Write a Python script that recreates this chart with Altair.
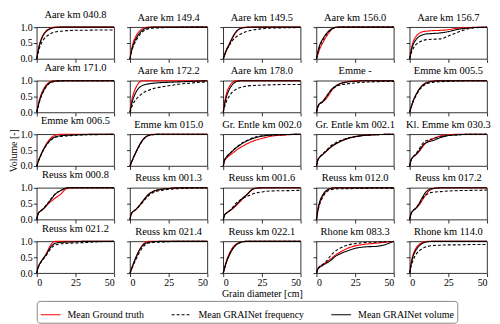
import altair as alt
import pandas as pd

DIAM = [0, 1, 2, 4, 6, 8, 10, 12, 15, 20, 25, 30, 40, 50]

TITLES = ["Aare km 040.8", "Aare km 149.4", "Aare km 149.5", "Aare km 156.0", "Aare km 156.7",
          "Aare km 171.0", "Aare km 172.2", "Aare km 178.0", "Emme -", "Emme km 005.5",
          "Emme km 006.5", "Emme km 015.0", "Gr. Entle km 002.0", "Gr. Entle km 002.1", "Kl. Emme km 030.3",
          "Reuss km 000.8", "Reuss km 001.3", "Reuss km 001.6", "Reuss km 012.0", "Reuss km 017.2",
          "Reuss km 021.2", "Reuss km 021.4", "Reuss km 022.1", "Rhone km 083.3", "Rhone km 114.0"]

SERIES = ["Mean Ground truth", "Mean GRAINet frequency", "Mean GRAINet volume"]

GT = [
    [0, .30, .50, .75, .88, .95, .99, 1, 1, 1, 1, 1, 1, 1],
    [0, .30, .50, .73, .87, .95, .99, 1, 1, 1, 1, 1, 1, 1],
    [0, .12, .25, .45, .65, .82, .93, .98, 1, 1, 1, 1, 1, 1],
    [0, .15, .30, .50, .67, .82, .93, .99, 1, 1, 1, 1, 1, 1],
    [0, .30, .50, .70, .80, .85, .87, .88, .89, .90, .92, .96, .99, 1],
    [0, .25, .45, .70, .86, .95, .99, 1, 1, 1, 1, 1, 1, 1],
    [0, .35, .55, .80, .95, 1, 1, 1, 1, 1, 1, 1, 1, 1],
    [0, .35, .58, .82, .95, 1, 1, 1, 1, 1, 1, 1, 1, 1],
    [0, .20, .28, .33, .42, .55, .70, .80, .90, .97, 1, 1, 1, 1],
    [0, .18, .33, .55, .72, .84, .92, .96, .99, 1, 1, 1, 1, 1],
    [0, .15, .28, .50, .68, .82, .92, .97, 1, 1, 1, 1, 1, 1],
    [0, .12, .24, .45, .64, .80, .91, .97, 1, 1, 1, 1, 1, 1],
    [0, .18, .24, .33, .40, .48, .55, .61, .69, .80, .87, .93, .98, 1],
    [0, .20, .27, .36, .45, .54, .62, .69, .77, .87, .93, .96, .99, 1],
    [0, .20, .27, .35, .45, .58, .70, .78, .86, .95, .98, 1, 1, 1],
    [0, .20, .25, .32, .42, .52, .60, .68, .78, .99, 1, 1, 1, 1],
    [0, .20, .25, .33, .43, .55, .67, .78, .88, .95, .98, 1, 1, 1],
    [0, .15, .20, .27, .34, .42, .52, .62, .76, .97, 1, 1, 1, 1],
    [0, .30, .50, .73, .88, .96, .99, 1, 1, 1, 1, 1, 1, 1],
    [0, .20, .27, .35, .45, .60, .75, .88, .97, 1, 1, 1, 1, 1],
    [0, .20, .30, .45, .60, .80, .95, 1, 1, 1, 1, 1, 1, 1],
    [0, .12, .25, .50, .72, .88, .97, 1, 1, 1, 1, 1, 1, 1],
    [0, .20, .38, .62, .80, .90, .96, .99, 1, 1, 1, 1, 1, 1],
    [0, .15, .20, .27, .33, .40, .48, .56, .65, .78, .86, .90, .95, 1],
    [0, .35, .55, .78, .90, .96, .99, 1, 1, 1, 1, 1, 1, 1],
]

FREQ = [
    [0, .22, .38, .58, .70, .77, .82, .85, .87, .89, .90, .90, .91, .91],
    [0, .22, .38, .58, .74, .85, .92, .95, .97, .98, .99, .99, 1, 1],
    [0, .14, .26, .43, .58, .68, .75, .80, .86, .92, .95, .97, .98, .99],
    [0, .22, .38, .58, .74, .86, .94, .98, 1, 1, 1, 1, 1, 1],
    [0, .18, .30, .45, .52, .57, .60, .61, .62, .63, .72, .82, .97, 1],
    [0, .20, .38, .63, .80, .91, .96, .98, .99, 1, 1, 1, 1, 1],
    [0, .15, .27, .42, .52, .60, .66, .70, .75, .80, .84, .88, .93, .97],
    [0, .20, .34, .52, .65, .72, .77, .80, .83, .85, .86, .87, .88, .88],
    [0, .18, .25, .33, .45, .60, .72, .80, .86, .90, .93, .95, .97, .98],
    [0, .17, .31, .52, .69, .80, .88, .92, .95, .97, .98, .99, 1, 1],
    [0, .14, .26, .47, .64, .76, .85, .90, .93, .95, .97, .98, .99, 1],
    [0, .12, .23, .44, .63, .79, .90, .96, .99, 1, 1, 1, 1, 1],
    [0, .20, .28, .38, .48, .57, .65, .72, .80, .90, .95, .97, .99, 1],
    [0, .20, .28, .38, .48, .57, .66, .72, .79, .88, .93, .96, .99, 1],
    [0, .20, .28, .38, .52, .68, .78, .82, .86, .92, .96, .98, 1, 1],
    [0, .20, .25, .33, .45, .57, .70, .82, .90, 1, 1, 1, 1, 1],
    [0, .19, .24, .32, .42, .53, .65, .75, .85, .92, .95, .97, .99, 1],
    [0, .15, .20, .28, .38, .50, .58, .65, .72, .82, .87, .90, .91, .92],
    [0, .28, .47, .70, .84, .92, .95, .96, .97, .97, .98, .98, .99, .99],
    [0, .20, .27, .36, .48, .64, .76, .82, .86, .88, .90, .91, .92, .93],
    [0, .18, .28, .42, .55, .70, .82, .88, .92, .94, .95, .96, .99, 1],
    [0, .12, .24, .45, .64, .80, .90, .95, .97, .98, .99, 1, 1, 1],
    [0, .18, .34, .58, .76, .88, .95, .98, 1, 1, 1, 1, 1, 1],
    [0, .15, .20, .27, .35, .48, .60, .68, .78, .88, .93, .96, .98, 1],
    [0, .22, .38, .58, .70, .77, .82, .85, .87, .88, .89, .89, .90, .90],
]

VOL = [
    [0, .28, .47, .72, .86, .93, .97, .99, 1, 1, 1, 1, 1, 1],
    [0, .25, .42, .65, .80, .90, .96, .98, 1, 1, 1, 1, 1, 1],
    [0, .15, .28, .48, .68, .84, .93, .97, .99, 1, 1, 1, 1, 1],
    [0, .25, .42, .62, .77, .88, .95, .99, 1, 1, 1, 1, 1, 1],
    [0, .25, .42, .60, .70, .75, .78, .79, .80, .82, .86, .92, .98, 1],
    [0, .22, .40, .65, .82, .92, .97, .99, 1, 1, 1, 1, 1, 1],
    [0, .25, .42, .65, .78, .85, .88, .90, .92, .94, .95, .96, .98, 1],
    [0, .28, .48, .73, .88, .96, .99, 1, 1, 1, 1, 1, 1, 1],
    [0, .20, .27, .35, .48, .62, .74, .82, .90, .96, .98, 1, 1, 1],
    [0, .18, .33, .55, .72, .84, .91, .95, .98, 1, 1, 1, 1, 1],
    [0, .15, .27, .48, .65, .78, .87, .92, .95, .97, .98, .99, 1, 1],
    [0, .12, .24, .46, .65, .81, .91, .96, .99, 1, 1, 1, 1, 1],
    [0, .20, .28, .38, .47, .56, .63, .70, .78, .88, .94, .97, .99, 1],
    [0, .20, .27, .36, .45, .54, .62, .68, .76, .86, .92, .96, .99, 1],
    [0, .20, .28, .36, .48, .62, .72, .76, .80, .90, .96, .98, 1, 1],
    [0, .20, .25, .33, .44, .56, .68, .80, .90, 1, 1, 1, 1, 1],
    [0, .20, .25, .33, .44, .57, .69, .80, .89, .95, .98, 1, 1, 1],
    [0, .15, .20, .27, .35, .45, .55, .65, .78, .98, 1, 1, 1, 1],
    [0, .35, .55, .77, .90, .96, .99, 1, 1, 1, 1, 1, 1, 1],
    [0, .20, .27, .36, .50, .68, .84, .93, .98, 1, 1, 1, 1, 1],
    [0, .20, .30, .45, .58, .75, .88, .94, .97, .98, .99, 1, 1, 1],
    [0, .15, .28, .52, .72, .86, .94, .97, .99, 1, 1, 1, 1, 1],
    [0, .17, .33, .57, .75, .87, .94, .98, 1, 1, 1, 1, 1, 1],
    [0, .13, .18, .24, .30, .36, .43, .52, .60, .70, .78, .82, .85, 1],
    [0, .30, .50, .72, .85, .93, .97, .99, 1, 1, 1, 1, 1, 1],
]

rows = []
for p, title in enumerate(TITLES):
    for s, vals in zip(SERIES, (GT[p], FREQ[p], VOL[p])):
        for d, v in zip(DIAM, vals):
            rows.append({"panel": p, "s": s, "d": d, "v": v})
df = pd.DataFrame(rows)

FONT = "Liberation Serif"
W, H = 78, 32

color_scale = alt.Scale(domain=SERIES, range=["#ff0000", "#000000", "#000000"])
dash_scale = alt.Scale(domain=SERIES, range=[[1, 0], [3, 2], [1, 0]])

panels = []
for i, title in enumerate(TITLES):
    r, c = divmod(i, 5)
    xtitle = "Grain diameter [cm]" if (r == 4 and c == 2) else ""
    ytitle = "Volume [-]" if (r == 2 and c == 0) else ""
    ch = (
        alt.Chart(df)
        .transform_filter(alt.datum.panel == i)
        .mark_line(strokeWidth=1.1, interpolate="monotone")
        .encode(
            x=alt.X("d:Q", scale=alt.Scale(domain=[0, 50], nice=False),
                    axis=alt.Axis(values=[0, 25, 50], labels=(r == 4), title=xtitle,
                                  format="d", labelFont=FONT, titleFont=FONT)),
            y=alt.Y("v:Q", scale=alt.Scale(domain=[0, 1], nice=False),
                    axis=alt.Axis(values=[0, 0.5, 1], labels=(c == 0), title=ytitle,
                                  format=".1f", labelFont=FONT, titleFont=FONT)),
            color=alt.Color("s:N", scale=color_scale, sort=SERIES, legend=alt.Legend(title=None)),
            strokeDash=alt.StrokeDash("s:N", scale=dash_scale, sort=SERIES, legend=alt.Legend(title=None)),
            detail="s:N",
        )
        .properties(width=W, height=H,
                    title=alt.TitleParams(title, fontSize=10.5, font=FONT, fontWeight="normal",
                                          offset=2, frame="group", anchor="middle", color="black"))
    )
    panels.append(ch)

chart = (
    alt.concat(*panels, columns=5, spacing={"row": 22, "column": 16}, bounds="flush")
    .properties(padding={"left": 0, "top": 0, "right": 0, "bottom": 0})
    .configure(font=FONT)
    .configure_view(stroke="black", strokeWidth=0.8)
    .configure_axis(
        grid=False, domain=False, tickColor="black", tickSize=3.5, tickWidth=0.8,
        labelFont=FONT, labelFontSize=10, labelColor="black", labelPadding=1,
        titleFont=FONT, titleFontSize=10, titleFontWeight="normal", titleColor="black",
        titlePadding=1,
    )
    .configure_legend(
        orient="bottom", direction="horizontal", strokeColor="#888888", cornerRadius=3,
        padding=3, labelFont=FONT, labelFontSize=10, labelColor="black",
        symbolType="stroke", symbolSize=400, symbolStrokeWidth=1.2, columnPadding=24,
        labelLimit=0, offset=2, labelOffset=6,
    )
)

chart.save("out.html", embed_options={"renderer": "svg", "actions": False})
